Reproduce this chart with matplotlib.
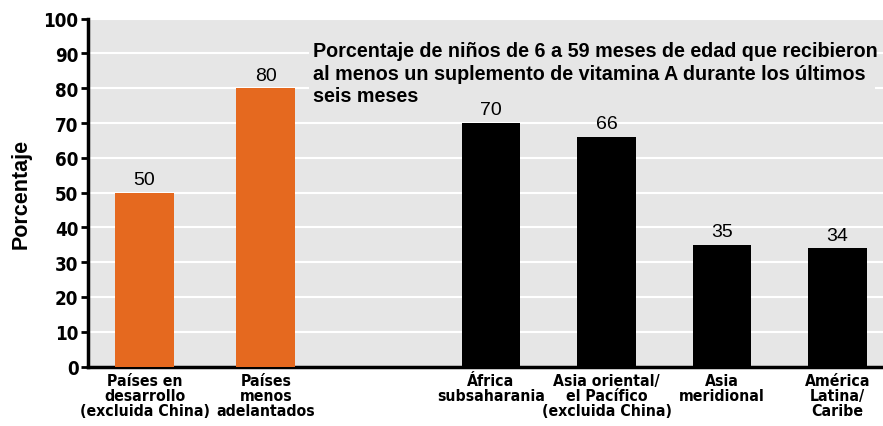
import matplotlib
matplotlib.use("Agg")
import matplotlib.pyplot as plt
from matplotlib import font_manager as fm
from matplotlib.patches import Rectangle

categories = ["Países en\ndesarrollo\n(excluida China)", "Países\nmenos\nadelantados",
              "África\nsubsaharania", "Asia oriental/\nel Pacífico\n(excluida China)",
              "Asia\nmeridional", "América\nLatina/\nCaribe"]
values = [50, 80, 70, 66, 35, 34]
colors = ["#E5691F", "#E5691F", "#000000", "#000000", "#000000", "#000000"]
positions = [0, 1.05, 3, 4, 5, 6]
yticks = [0, 10, 20, 30, 40, 50, 60, 70, 80, 90, 100]
title_lines = ["Porcentaje de niños de 6 a 59 meses de edad que recibieron",
               "al menos un suplemento de vitamina A durante los últimos",
               "seis meses"]

names = {f.name for f in fm.fontManager.ttflist}
cond_files = [f for f in fm.fontManager.ttflist if f.name == "DejaVu Sans"
              and "condensed" in str(f.stretch).lower() and f.weight in ("bold", 700)
              and f.style == "normal"]
sans = "Liberation Sans" if "Liberation Sans" in names else "DejaVu Sans"


def condensed(size):
    if "Liberation Sans Narrow" in names:
        return fm.FontProperties(family="Liberation Sans Narrow", weight="bold", size=size)
    if cond_files:
        return fm.FontProperties(fname=cond_files[0].fname, size=size)
    return fm.FontProperties(family="DejaVu Sans", weight="bold", stretch="condensed", size=size)


fig = plt.figure(figsize=(8.83, 4.27), dpi=100)
ax = fig.add_axes([0.0991, 0.1393, 0.9009, 0.8147])
ax.set_facecolor("#e6e6e6")
ax.bar(positions, values, width=0.51, color=colors, zorder=3)
for p, v in zip(positions, values):
    ax.text(p, v + 1.3, str(v), ha="center", va="bottom", fontsize=14,
            family=sans, zorder=6)
ax.set_ylim(0, 100)
ax.set_xlim(-0.494, 6.394)
ax.set_yticks(yticks)
ax.set_xticks(positions)
ax.set_yticklabels([str(t) for t in yticks])
ax.set_xticklabels(categories)
for lab in ax.get_yticklabels():
    lab.set_fontproperties(condensed(13.5))
for lab in ax.get_xticklabels():
    lab.set_fontproperties(condensed(11.3))
    lab.set_linespacing(1.0)
ax.tick_params(axis="x", length=0, pad=5)
ax.tick_params(axis="y", length=5, width=2, pad=1.5)
ax.grid(axis="y", color="white", linewidth=1.5, zorder=1)
for s in ["top", "right"]:
    ax.spines[s].set_visible(False)
ax.spines["left"].set_linewidth(2.5)
ax.spines["bottom"].set_linewidth(2.5)
ax.set_ylabel("Porcentaje", family=sans, fontweight="bold", fontsize=15.5)
ax.yaxis.set_label_coords(-0.07, 0.5)
# gray panel behind the title hiding the gridlines it crosses
ax.add_patch(Rectangle((0.278, 0.75), 0.712, 0.2, transform=ax.transAxes,
                       facecolor="#e6e6e6", edgecolor="none", zorder=2))
for i, line in enumerate(title_lines):
    ax.text(0.2835, 0.892 - 0.0645 * i, line, transform=ax.transAxes, ha="left",
            va="baseline", family=sans, fontweight="bold", fontsize=14.2, zorder=5)
fig.savefig("out.png", dpi=100)
